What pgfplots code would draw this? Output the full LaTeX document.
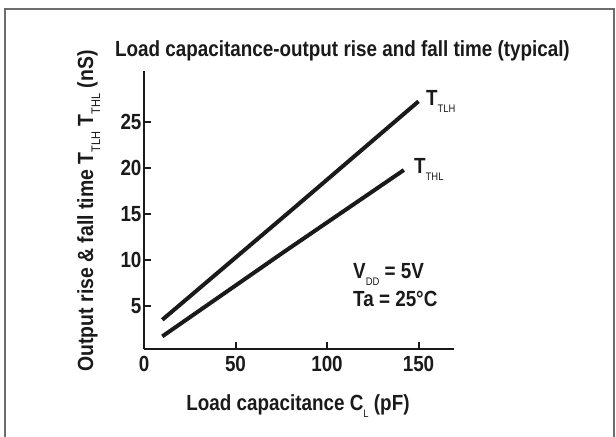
\documentclass[border=0pt]{standalone}
\usepackage{fontspec}
\setmainfont{Liberation Sans}[FakeStretch=0.86]
\usepackage{pgfplots}
\pgfplotsset{compat=1.18}
\definecolor{ink}{HTML}{1A1A1A}
\newcommand{\bigf}{\fontsize{22}{22}\selectfont\bfseries}
\newcommand{\sub}[1]{\raisebox{-7bp}{\fontsize{11}{11}\selectfont\mdseries #1}}
\newcommand{\subb}[1]{\raisebox{-7bp}{\fontsize{12.5}{12.5}\selectfont\mdseries #1}}
\begin{document}
\begin{tikzpicture}
\useasboundingbox (0,0) rectangle (616bp,-437bp);
\draw[color=gray!85!black, line width=1.2bp] (5bp,-437bp) -- (5bp,-9bp) -- (614bp,-9bp) -- (614bp,-437bp);
\begin{axis}[
  at={(144bp,-349bp)}, anchor=south west,
  scale only axis, width=310bp, height=278.3bp,
  xmin=0, xmax=169.4, ymin=0.33, ymax=30.53,
  axis lines*=left, axis line style={-, line width=2.2bp, ink},
  xtick={0,50,100,150}, ytick={5,10,15,20,25},
  tick align=inside, major tick length=7bp, tick style={line width=2bp, ink},
  /pgf/number format/assume math mode=true,
  ticklabel style={font=\bigf, text=ink},
  xticklabel style={yshift=-4bp},
  yticklabel style={xshift=1bp},
  clip=false,
]
\addplot[ink, line width=4bp] coordinates {(10,3.5) (80,15.3) (150,27.2)};
\addplot[ink, line width=4bp] coordinates {(10,1.7) (76,10.8) (142,19.75)};
\end{axis}
\node[anchor=base west, ink, font=\bigf, inner sep=0pt] at (115bp,-56bp) {Load capacitance-output rise and fall time (typical)};
\node[anchor=base, ink, font=\bigf, inner sep=0pt] at (298bp,-410.7bp) {Load capacitance C\sub{L} (pF)};
\node[anchor=base, rotate=90, xscale=1.03, ink, font=\bigf, inner sep=0pt] at (93bp,-211bp) {Output rise \& fall time T\subb{TLH} T\subb{THL} (nS)};
\node[anchor=base west, ink, font=\bigf, inner sep=0pt] at (426bp,-105bp) {T\sub{TLH}};
\node[anchor=base west, ink, font=\bigf, inner sep=0pt] at (414bp,-173bp) {T\sub{THL}};
\node[anchor=base west, ink, font=\bigf, inner sep=0pt] at (353bp,-278.3bp) {V\sub{DD} = 5V};
\node[anchor=base west, ink, font=\bigf, inner sep=0pt] at (353bp,-306bp) {Ta = 25°C};
\end{tikzpicture}
\end{document}
